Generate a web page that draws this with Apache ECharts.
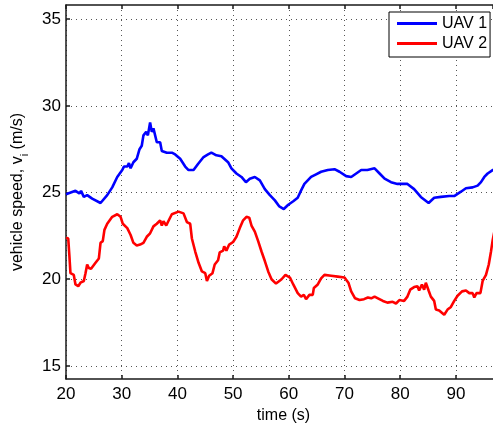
<!DOCTYPE html>
<html>
<head>
<meta charset="utf-8">
<script src="https://cdn.jsdelivr.net/npm/echarts@6/dist/echarts.min.js"></script>
<style>html,body{margin:0;padding:0;background:#fff;overflow:hidden;}#c{width:493px;height:429px;}</style>
</head>
<body>
<div id="c"></div>
<script>
const seriesNames = ['UAV 1', 'UAV 2'];
const xTickStep = 10;
const yTicks = [15, 20, 25, 30, 35];

const uav1Time = [20, 21.7, 22.4, 22.7, 23.2, 23.8, 24.7, 26.2, 27.4, 28.3, 29.2, 30.1, 30.4, 31.0, 31.3, 31.6, 32.1, 32.7, 33.2, 33.6, 33.9, 34.4, 34.7, 35.1, 35.4, 35.7, 36.0, 36.3, 36.9, 37.2, 38.1, 39.0, 39.6, 40.5, 41.4, 42.0, 42.9, 43.7, 44.7, 45.5, 46.1, 47.0, 47.9, 49.1, 49.7, 50.6, 51.5, 52.3, 53.0, 53.9, 54.8, 55.7, 56.6, 57.5, 58.3, 59.1, 59.9, 60.8, 61.6, 62.1, 62.8, 64.0, 64.9, 65.8, 67.0, 68.2, 69.1, 70.3, 71.2, 72.1, 73.0, 74.1, 75.4, 76.3, 77.2, 78.35, 79.5, 80.4, 81.3, 82.5, 83.7, 85.1, 86.1, 87.3, 88.8, 89.7, 90.9, 91.8, 93.0, 93.9, 94.5, 95.1, 95.7, 96.6, 97.2];
const uav1Speed = [24.9, 25.1, 24.95, 25.1, 24.75, 24.85, 24.65, 24.4, 24.85, 25.3, 25.9, 26.3, 26.5, 26.5, 26.7, 26.4, 26.75, 26.95, 27.5, 27.7, 28.3, 28.5, 28.3, 29.05, 28.5, 28.7, 28.7, 27.9, 27.9, 27.4, 27.3, 27.3, 27.2, 26.95, 26.5, 26.3, 26.3, 26.65, 27.05, 27.2, 27.3, 27.15, 27.1, 26.75, 26.4, 26.1, 25.9, 25.6, 25.8, 25.9, 25.7, 25.2, 24.85, 24.55, 24.2, 24.05, 24.3, 24.5, 24.7, 25.05, 25.5, 25.9, 26.05, 26.2, 26.3, 26.35, 26.2, 25.95, 25.9, 26.1, 26.3, 26.3, 26.4, 26.1, 25.8, 25.6, 25.5, 25.5, 25.5, 25.2, 24.75, 24.4, 24.7, 24.75, 24.8, 24.8, 25.05, 25.25, 25.3, 25.4, 25.6, 25.9, 26.1, 26.3, 26.4];

const uav2Time = [20.0, 20.4, 20.6, 20.8, 21.1, 21.4, 21.7, 22.2, 22.6, 23.2, 23.5, 23.8, 24.1, 24.5, 25.3, 25.9, 26.2, 26.6, 26.9, 27.4, 28.3, 29.2, 29.8, 30.2, 31.0, 31.6, 32.1, 32.7, 33.3, 33.9, 34.5, 35.1, 35.7, 36.3, 36.6, 36.9, 37.2, 37.5, 38.0, 38.3, 39.0, 39.3, 40.2, 41.1, 41.7, 42.3, 42.6, 43.2, 43.8, 44.4, 45.0, 45.3, 45.7, 46.3, 46.7, 47.3, 47.6, 48.2, 48.4, 48.8, 49.3, 50.0, 50.6, 51.2, 51.8, 52.4, 52.9, 53.3, 53.9, 54.5, 55.1, 55.7, 56.3, 56.9, 57.7, 58.3, 58.7, 59.4, 60.2, 60.8, 61.6, 62.2, 62.7, 63.1, 63.7, 64.3, 64.5, 65.2, 65.8, 66.4, 67.6, 68.8, 70.0, 70.7, 71.2, 71.9, 72.7, 73.5, 74.2, 74.8, 75.4, 76.0, 76.9, 77.7, 78.05, 78.65, 79.25, 79.85, 80.7, 81.3, 81.8, 82.5, 83.1, 83.4, 83.9, 84.3, 84.6, 85.1, 85.5, 86.1, 86.4, 87.0, 87.3, 87.9, 88.5, 89.1, 89.7, 90.3, 91.1, 91.8, 92.4, 93.0, 93.3, 93.7, 94.4, 94.8, 95.4, 95.9, 96.3, 96.6, 97.0];
const uav2Speed = [22.4, 22.35, 21.4, 20.35, 20.45, 20.25, 19.7, 19.6, 19.8, 19.9, 20.35, 20.85, 20.65, 20.6, 20.95, 21.2, 22.1, 22.2, 22.85, 23.2, 23.6, 23.75, 23.6, 23.2, 22.95, 22.55, 22.1, 21.95, 22.0, 22.1, 22.45, 22.65, 23.05, 23.2, 23.3, 23.4, 23.1, 23.35, 23.1, 23.3, 23.75, 23.8, 23.9, 23.8, 23.3, 23.2, 22.35, 21.6, 20.95, 20.45, 20.35, 19.9, 20.2, 20.35, 20.85, 21.1, 21.55, 21.65, 21.9, 21.65, 22.0, 22.15, 22.45, 22.95, 23.4, 23.6, 23.55, 23.1, 22.75, 22.2, 21.6, 21.05, 20.45, 20.0, 19.75, 19.9, 20.0, 20.25, 20.1, 19.7, 19.2, 19.0, 19.1, 18.85, 19.1, 19.1, 19.5, 19.7, 20.05, 20.25, 20.2, 20.15, 20.1, 19.8, 19.3, 18.9, 18.8, 18.85, 18.95, 18.9, 19.0, 18.9, 18.75, 18.65, 18.65, 18.7, 18.6, 18.8, 18.75, 19.0, 19.4, 19.55, 19.6, 19.35, 19.7, 19.4, 19.8, 19.35, 19.0, 18.75, 18.25, 18.2, 18.25, 17.95, 18.25, 18.4, 18.75, 19.05, 19.3, 19.35, 19.2, 19.2, 18.95, 19.2, 19.2, 19.9, 20.25, 20.85, 21.6, 22.25, 22.9];

const FONT = '"Liberation Sans", Arial, Helvetica, sans-serif';
const pair = (xs, ys) => xs.map((x, i) => [x, ys[i]]);

const chart = echarts.init(document.getElementById('c'), null, {renderer: 'canvas'});
const axisLineStyle = {color: '#1a1a1a', width: 1.5};
const gridLine = {show: true, lineStyle: {color: '#555', type: [1, 4], width: 1}};

chart.setOption({
  backgroundColor: '#fff',
  animation: false,
  grid: {left: 66, top: 5, right: 0, bottom: 47, containLabel: false},
  xAxis: [{
    type: 'value', min: 20, max: 96.66, interval: xTickStep, position: 'bottom',
    name: 'time (s)', nameLocation: 'middle', nameGap: 27,
    nameTextStyle: {fontFamily: FONT, fontSize: 16, color: '#000', padding: [0, 0, 0, 8]},
    axisLine: {show: true, onZero: false, lineStyle: axisLineStyle},
    axisTick: {show: true, inside: true, length: 4, lineStyle: axisLineStyle},
    axisLabel: {show: true, fontFamily: FONT, fontSize: 17, color: '#000', margin: 7, showMaxLabel: false},
    splitLine: gridLine
  }, {
    type: 'value', min: 20, max: 96.66, interval: xTickStep, position: 'top',
    axisLine: {show: true, onZero: false, lineStyle: axisLineStyle},
    axisTick: {show: true, inside: true, length: 4, lineStyle: axisLineStyle},
    axisLabel: {show: false},
    splitLine: {show: false}
  }],
  yAxis: [{
    type: 'value', min: 14.24, max: 35.82, position: 'left',
    name: '{a|vehicle speed, v}{s|i}{a| (m/s)}', nameLocation: 'middle', nameGap: 36,
    nameTextStyle: {fontFamily: FONT, fontSize: 16, color: '#000',
      rich: {
        a: {fontFamily: FONT, fontSize: 16, color: '#000', lineHeight: 20, verticalAlign: 'top'},
        s: {fontFamily: FONT, fontSize: 11, color: '#000', lineHeight: 11, verticalAlign: 'top', padding: [9, 0, 0, 0]}
      }},
    axisLine: {show: true, onZero: false, lineStyle: axisLineStyle},
    axisTick: {show: true, inside: true, length: 4, lineStyle: axisLineStyle, customValues: yTicks},
    axisLabel: {show: true, fontFamily: FONT, fontSize: 17, color: '#000', margin: 5, customValues: yTicks},
    splitLine: gridLine
  }],
  legend: {
    orient: 'vertical', left: 389, top: 12,
    backgroundColor: '#fff', borderColor: '#000', borderWidth: 1,
    padding: [3, 3, 5, 8], itemGap: 3, itemWidth: 40, itemHeight: 3,
    icon: 'rect',
    textStyle: {fontFamily: FONT, fontSize: 16, color: '#000', lineHeight: 17},
    data: seriesNames
  },
  series: [{
    name: seriesNames[0], type: 'line', xAxisIndex: 0, yAxisIndex: 0,
    data: pair(uav1Time, uav1Speed), showSymbol: false, symbol: 'none',
    lineStyle: {color: '#0000ff', width: 2.6}, itemStyle: {color: '#0000ff'}, z: 3
  }, {
    name: seriesNames[1], type: 'line', xAxisIndex: 0, yAxisIndex: 0,
    data: pair(uav2Time, uav2Speed), showSymbol: false, symbol: 'none',
    lineStyle: {color: '#ff0000', width: 2.6}, itemStyle: {color: '#ff0000'}, z: 3
  }]
});
</script>
</body>
</html>
